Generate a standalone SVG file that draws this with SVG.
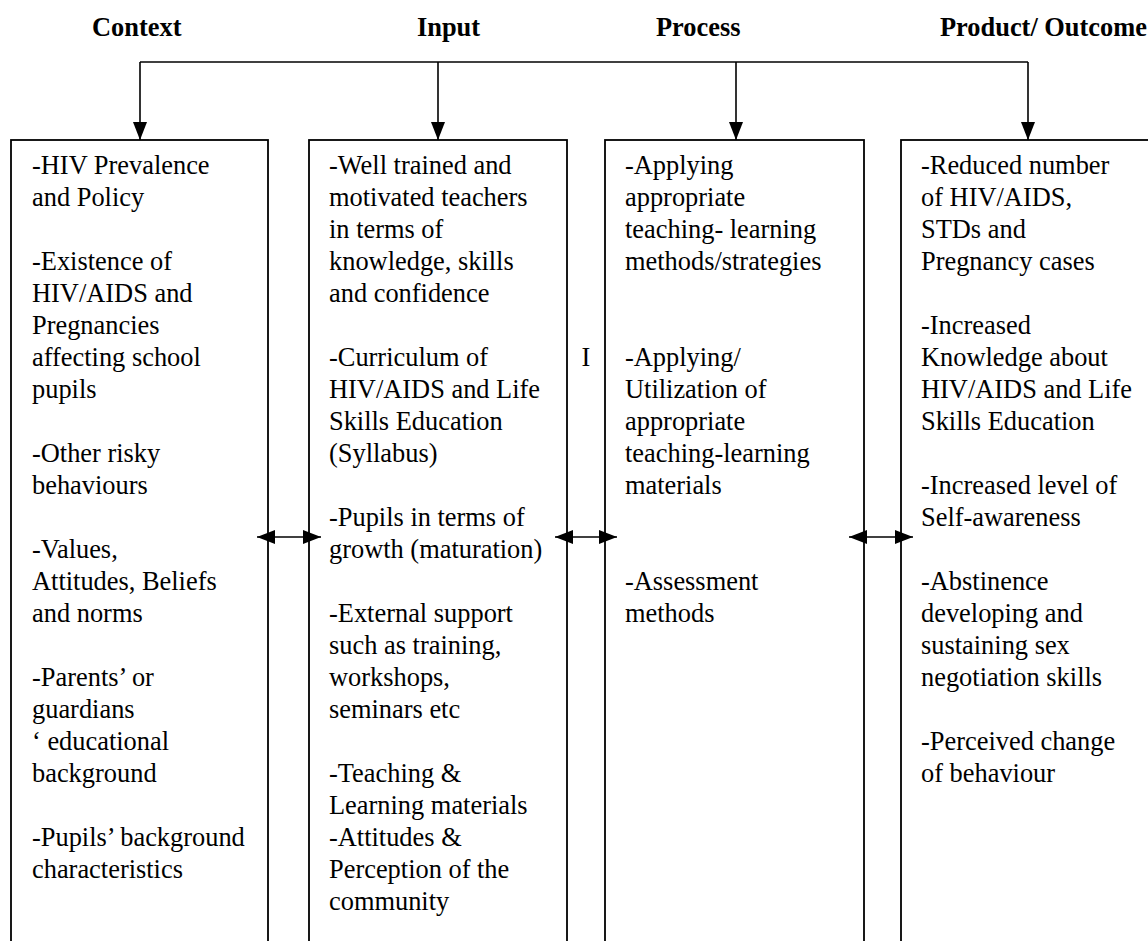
<svg xmlns="http://www.w3.org/2000/svg" width="1148" height="941" viewBox="0 0 1148 941">
<defs>
<style>
.hdr{font-family:"Liberation Serif","Times New Roman",serif;font-weight:bold;font-size:26.4px;fill:#000}
.t{font-family:"Liberation Serif","Times New Roman",serif;font-size:26.4px;fill:#000}
.box{fill:#fff;stroke:#000;stroke-width:1.8}
.con{fill:none;stroke:#000;stroke-width:1.6}
</style>
<marker id="ah" viewBox="0 0 18 14" refX="18" refY="7" markerWidth="18" markerHeight="14" markerUnits="userSpaceOnUse" orient="auto">
<path d="M0,0 L18,7 L0,14 Z" fill="#000"/>
</marker>
<marker id="ahs" viewBox="0 0 18 14" refX="18" refY="7" markerWidth="18" markerHeight="14" markerUnits="userSpaceOnUse" orient="auto-start-reverse">
<path d="M0,0 L18,7 L0,14 Z" fill="#000"/>
</marker>
</defs>
<rect width="1148" height="941" fill="#fff"/>
<g id="headers">
<text class="hdr" x="92" y="36">Context</text>
<text class="hdr" x="417" y="36">Input</text>
<text class="hdr" x="656" y="36">Process</text>
<text class="hdr" x="940" y="36">Product/ Outcome</text>
</g>
<g id="context">
<rect class="box" x="11" y="140" width="257" height="820"/>
<text class="t">
<tspan x="32" y="174">-HIV Prevalence</tspan>
<tspan x="32" y="206">and Policy</tspan>
<tspan x="32" y="270">-Existence of</tspan>
<tspan x="32" y="302">HIV/AIDS and</tspan>
<tspan x="32" y="334">Pregnancies</tspan>
<tspan x="32" y="366">affecting school</tspan>
<tspan x="32" y="398">pupils</tspan>
<tspan x="32" y="462">-Other risky</tspan>
<tspan x="32" y="494">behaviours</tspan>
<tspan x="32" y="558">-Values,</tspan>
<tspan x="32" y="590">Attitudes, Beliefs</tspan>
<tspan x="32" y="622">and norms</tspan>
<tspan x="32" y="686">-Parents’ or</tspan>
<tspan x="32" y="718">guardians</tspan>
<tspan x="32" y="750">‘ educational</tspan>
<tspan x="32" y="782">background</tspan>
<tspan x="32" y="846">-Pupils’ background</tspan>
<tspan x="32" y="878">characteristics</tspan>
</text>
</g>
<g id="input">
<rect class="box" x="309" y="140" width="258" height="820"/>
<text class="t">
<tspan x="329" y="174">-Well trained and</tspan>
<tspan x="329" y="206">motivated teachers</tspan>
<tspan x="329" y="238">in terms of</tspan>
<tspan x="329" y="270">knowledge, skills</tspan>
<tspan x="329" y="302">and confidence</tspan>
<tspan x="329" y="366">-Curriculum of</tspan>
<tspan x="329" y="398">HIV/AIDS and Life</tspan>
<tspan x="329" y="430">Skills Education</tspan>
<tspan x="329" y="462">(Syllabus)</tspan>
<tspan x="329" y="526">-Pupils in terms of</tspan>
<tspan x="329" y="558">growth (maturation)</tspan>
<tspan x="329" y="622">-External support</tspan>
<tspan x="329" y="654">such as training,</tspan>
<tspan x="329" y="686">workshops,</tspan>
<tspan x="329" y="718">seminars etc</tspan>
<tspan x="329" y="782">-Teaching &amp;</tspan>
<tspan x="329" y="814">Learning materials</tspan>
<tspan x="329" y="846">-Attitudes &amp;</tspan>
<tspan x="329" y="878">Perception of the</tspan>
<tspan x="329" y="910">community</tspan>
</text>
</g>
<g id="process">
<rect class="box" x="605" y="140" width="259" height="820"/>
<text class="t">
<tspan x="625" y="174">-Applying</tspan>
<tspan x="625" y="206">appropriate</tspan>
<tspan x="625" y="238">teaching- learning</tspan>
<tspan x="625" y="270">methods/strategies</tspan>
<tspan x="625" y="366">-Applying/</tspan>
<tspan x="625" y="398">Utilization of</tspan>
<tspan x="625" y="430">appropriate</tspan>
<tspan x="625" y="462">teaching-learning</tspan>
<tspan x="625" y="494">materials</tspan>
<tspan x="625" y="590">-Assessment</tspan>
<tspan x="625" y="622">methods</tspan>
</text>
</g>
<g id="outcome">
<rect class="box" x="901" y="140" width="270" height="820"/>
<text class="t">
<tspan x="921" y="174">-Reduced number</tspan>
<tspan x="921" y="206">of HIV/AIDS,</tspan>
<tspan x="921" y="238">STDs and</tspan>
<tspan x="921" y="270">Pregnancy cases</tspan>
<tspan x="921" y="334">-Increased</tspan>
<tspan x="921" y="366">Knowledge about</tspan>
<tspan x="921" y="398">HIV/AIDS and Life</tspan>
<tspan x="921" y="430">Skills Education</tspan>
<tspan x="921" y="494">-Increased level of</tspan>
<tspan x="921" y="526">Self-awareness</tspan>
<tspan x="921" y="590">-Abstinence</tspan>
<tspan x="921" y="622">developing and</tspan>
<tspan x="921" y="654">sustaining sex</tspan>
<tspan x="921" y="686">negotiation skills</tspan>
<tspan x="921" y="750">-Perceived change</tspan>
<tspan x="921" y="782">of behaviour</tspan>
</text>
</g>
<g id="label-i">
<text class="t" x="586" y="366" text-anchor="middle">I</text>
</g>
<g id="connectors">
<path class="con" d="M140,62 H1028"/>
<path class="con" d="M140,62 V140" marker-end="url(#ah)"/>
<path class="con" d="M438,62 V140" marker-end="url(#ah)"/>
<path class="con" d="M736,62 V140" marker-end="url(#ah)"/>
<path class="con" d="M1028,62 V140" marker-end="url(#ah)"/>
<path class="con" d="M257,537 H321" marker-start="url(#ahs)" marker-end="url(#ah)"/>
<path class="con" d="M555,537 H617" marker-start="url(#ahs)" marker-end="url(#ah)"/>
<path class="con" d="M849,537 H913" marker-start="url(#ahs)" marker-end="url(#ah)"/>
</g>
</svg>
